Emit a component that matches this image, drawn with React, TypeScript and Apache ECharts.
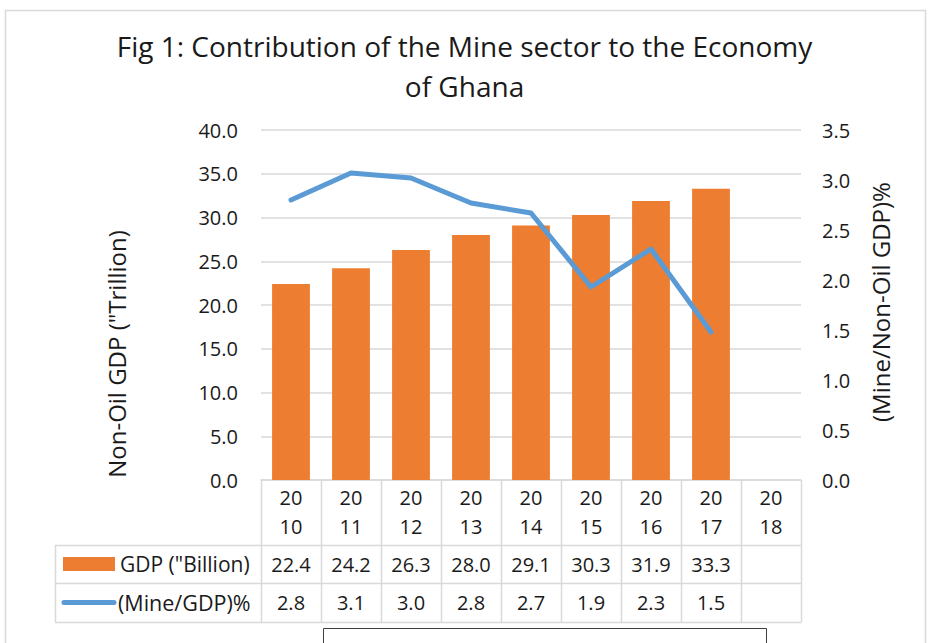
import React, { useEffect, useRef } from "react";
import * as echarts from "echarts";

const years = ["2010", "2011", "2012", "2013", "2014", "2015", "2016", "2017", "2018"];
const gdpValues: (number | null)[] = [22.4, 24.2, 26.3, 28.0, 29.1, 30.3, 31.9, 33.3, null];
const mineShare: (number | null)[] = [2.8, 3.07, 3.02, 2.77, 2.67, 1.93, 2.31, 1.48, null];
const leftTicks = { min: 0, max: 40, interval: 5 };
const rightTicks = { min: 0, max: 3.5, interval: 0.5 };

const TITLE = "Fig 1: Contribution of the Mine sector to the Economy\nof Ghana";
const GDP_NAME = 'GDP ("Billion)';
const MINE_NAME = "(Mine/GDP)%";
const LEFT_TITLE = 'Non-Oil GDP ("Trillion)';
const RIGHT_TITLE = "(Mine/Non-Oil GDP)%";

const FONT = "'Open Sans', 'Noto Sans', sans-serif";
const ORANGE = "#ED7D31";
const BLUE = "#5B9BD5";
const GRID_COLOR = "#D9D9D9";
const TEXT = "#1a1a1a";

export default function App() {
  const ref = useRef<HTMLDivElement>(null);
  useEffect(() => {
    if (!ref.current) return;
    const chart = echarts.init(ref.current, null, { renderer: "svg" });
    const gl = 261;
    const gr = 801;
    const gt = 130;
    const gb = 480;
    const colW = (gr - gl) / years.length;
    const row1 = 545;
    const row2 = 583;
    const row3 = 622;
    const tableLeft = 55;

    const graphics: any[] = [];
    graphics.push({
      type: "rect",
      shape: { x: 5.5, y: 10.5, width: 920, height: 700 },
      style: { fill: "none", stroke: GRID_COLOR, lineWidth: 1.5 },
      silent: true,
    });
    graphics.push({
      type: "rect",
      shape: { x: 323.5, y: 628.5, width: 443, height: 40 },
      style: { fill: "none", stroke: "#404040", lineWidth: 1 },
      silent: true,
    });
    for (let i = 0; i <= years.length; i++) {
      const x = Math.round(gl + i * colW) + 0.5;
      graphics.push({
        type: "line",
        shape: { x1: x, y1: gb, x2: x, y2: row3 },
        style: { stroke: GRID_COLOR, lineWidth: 1.5 },
        silent: true,
      });
    }
    graphics.push({
      type: "line",
      shape: { x1: tableLeft + 0.5, y1: row1, x2: tableLeft + 0.5, y2: row3 },
      style: { stroke: GRID_COLOR, lineWidth: 1.5 },
      silent: true,
    });
    [row1, row2, row3].forEach((y) => {
      graphics.push({
        type: "line",
        shape: { x1: tableLeft, y1: y + 0.5, x2: gr + 0.5, y2: y + 0.5 },
        style: { stroke: GRID_COLOR, lineWidth: 1.5 },
        silent: true,
      });
    });
    graphics.push({
      type: "rect",
      shape: { x: 63, y: 557, width: 52, height: 14 },
      style: { fill: ORANGE },
      silent: true,
    });
    graphics.push({
      type: "text",
      x: 120,
      y: (row1 + row2) / 2,
      style: { text: GDP_NAME, font: `21px ${FONT}`, fill: TEXT, verticalAlign: "middle", align: "left" },
      silent: true,
    });
    graphics.push({
      type: "line",
      shape: { x1: 64, y1: 602.5, x2: 114, y2: 602.5 },
      style: { stroke: BLUE, lineWidth: 5, lineCap: "round" },
      silent: true,
    });
    graphics.push({
      type: "text",
      x: 118,
      y: (row2 + row3) / 2,
      style: { text: MINE_NAME, font: `21.5px ${FONT}`, fill: TEXT, verticalAlign: "middle", align: "left" },
      silent: true,
    });
    graphics.push({
      type: "text",
      x: 116,
      y: 354,
      rotation: Math.PI / 2,
      style: { text: LEFT_TITLE, font: `24px ${FONT}`, fill: TEXT, verticalAlign: "middle", align: "center" },
      silent: true,
    });
    graphics.push({
      type: "text",
      x: 880,
      y: 302,
      rotation: Math.PI / 2,
      style: { text: RIGHT_TITLE, font: `24px ${FONT}`, fill: TEXT, verticalAlign: "middle", align: "center" },
      silent: true,
    });

    const fmt1 = (v: number | null) => (v == null ? "" : v.toFixed(1));

    chart.setOption({
      animation: false,
      backgroundColor: "#fff",
      title: {
        text: TITLE,
        left: "center",
        top: 21,
        textStyle: { fontFamily: FONT, fontSize: 28, fontWeight: "normal", color: TEXT, lineHeight: 40 },
      },
      grid: { left: gl, right: 929 - gr, top: gt, bottom: 643 - gb, containLabel: false },
      xAxis: [
        {
          type: "category",
          data: years,
          position: "bottom",
          axisLine: { show: true, lineStyle: { color: GRID_COLOR, width: 1.5 } },
          axisTick: { show: false },
          axisLabel: {
            interval: 0,
            formatter: (v: string) => `${v.slice(0, 2)}\n${v.slice(2)}`,
            fontFamily: FONT,
            fontSize: 20,
            color: TEXT,
            lineHeight: 29,
            verticalAlign: "middle",
            margin: 32,
          },
        },
        {
          type: "category",
          data: years,
          position: "bottom",
          offset: (row1 + row2) / 2 - gb,
          axisLine: { show: false },
          axisTick: { show: false },
          axisLabel: {
            interval: 0,
            formatter: (_v: string, i: number) => fmt1(gdpValues[i]),
            fontFamily: FONT,
            fontSize: 20,
            color: TEXT,
            verticalAlign: "middle",
            margin: 0,
          },
        },
        {
          type: "category",
          data: years,
          position: "bottom",
          offset: (row2 + row3) / 2 - gb,
          axisLine: { show: false },
          axisTick: { show: false },
          axisLabel: {
            interval: 0,
            formatter: (_v: string, i: number) => fmt1(mineShare[i]),
            fontFamily: FONT,
            fontSize: 20,
            color: TEXT,
            verticalAlign: "middle",
            margin: 0,
          },
        },
      ],
      yAxis: [
        {
          type: "value",
          ...leftTicks,
          position: "left",
          axisLine: { show: false },
          axisTick: { show: false },
          splitLine: { show: true, lineStyle: { color: GRID_COLOR, width: 1.5 } },
          axisLabel: { formatter: (v: number) => v.toFixed(1), fontFamily: FONT, fontSize: 20, color: TEXT, margin: 23 },
        },
        {
          type: "value",
          ...rightTicks,
          position: "right",
          axisLine: { show: false },
          axisTick: { show: false },
          splitLine: { show: false },
          axisLabel: { formatter: (v: number) => v.toFixed(1), fontFamily: FONT, fontSize: 20, color: TEXT, margin: 21 },
        },
      ],
      series: [
        {
          name: GDP_NAME,
          type: "bar",
          data: gdpValues,
          xAxisIndex: 0,
          yAxisIndex: 0,
          barWidth: "63%",
          itemStyle: { color: ORANGE },
        },
        {
          name: MINE_NAME,
          type: "line",
          data: mineShare,
          xAxisIndex: 0,
          yAxisIndex: 1,
          showSymbol: false,
          symbol: "none",
          lineStyle: { color: BLUE, width: 5, cap: "round", join: "round" },
        },
      ],
      graphic: graphics,
    });
    return () => chart.dispose();
  }, []);
  return <div ref={ref} style={{ position: "fixed", left: 0, top: 0, width: 929, height: 643 }} />;
}
